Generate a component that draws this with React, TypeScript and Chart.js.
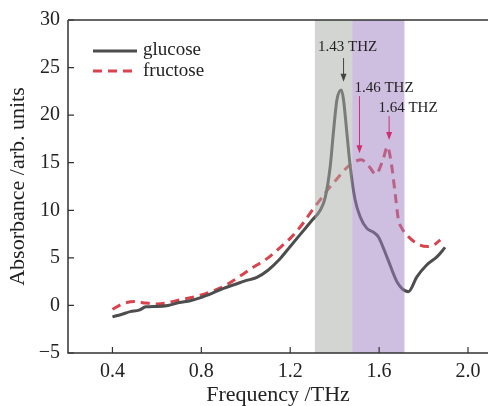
import { useEffect, useRef } from "react";
import { Chart, registerables } from "chart.js";

Chart.register(...registerables);

// ---- data ----
const glucoseX = [0.4, 0.44, 0.48, 0.52, 0.55, 0.6, 0.65, 0.7, 0.75, 0.8, 0.85, 0.9, 0.95, 1.0, 1.05, 1.1, 1.15, 1.2, 1.25, 1.3, 1.335, 1.357, 1.38, 1.394, 1.41, 1.43, 1.44, 1.455, 1.47, 1.492, 1.515, 1.545, 1.574, 1.597, 1.635, 1.68, 1.702, 1.732, 1.77, 1.814, 1.86, 1.897];
const glucoseY = [-1.2, -0.95, -0.65, -0.5, -0.15, -0.1, 0.0, 0.3, 0.5, 0.85, 1.3, 1.8, 2.2, 2.6, 2.95, 3.7, 4.8, 6.2, 7.6, 9.0, 10.0, 11.3, 14.6, 18.1, 21.6, 22.65, 21.6, 18.1, 14.6, 11.1, 9.3, 8.1, 7.7, 7.2, 5.1, 2.5, 1.8, 1.45, 3.0, 4.25, 5.1, 6.1];

const fructoseX = [0.4, 0.45, 0.5, 0.55, 0.6, 0.65, 0.7, 0.75, 0.8, 0.85, 0.9, 0.95, 1.0, 1.05, 1.1, 1.15, 1.2, 1.25, 1.305, 1.335, 1.37, 1.41, 1.47, 1.52, 1.555, 1.585, 1.62, 1.637, 1.657, 1.672, 1.687, 1.7, 1.74, 1.784, 1.82, 1.85, 1.875];
const fructoseY = [-0.4, 0.2, 0.4, 0.25, 0.15, 0.3, 0.57, 0.8, 1.1, 1.5, 2.0, 2.7, 3.5, 4.25, 5.0, 6.0, 7.05, 8.4, 10.2, 11.1, 12.2, 13.3, 14.8, 15.3, 14.6, 13.8, 15.5, 16.7, 14.6, 11.8, 9.0, 8.2, 7.05, 6.35, 6.2, 6.4, 6.9];

const xTicks = [0.4, 0.8, 1.2, 1.6, 2.0];
const yTicks = [-5, 0, 5, 10, 15, 20, 25, 30];

const bandStarts = [1.311, 1.479];
const bandEnds = [1.479, 1.714];

const seriesNames = ["glucose", "fructose"];

const peakLabels = ["1.43 THZ", "1.46 THZ", "1.64 THZ"];
const peakTextX = [1.458, 1.622, 1.73];
const peakTextY = [26.74, 22.43, 20.33];
const peakArrowX = [1.44, 1.5116, 1.645];
const peakArrowFrom = [26.0, 22.0, 19.9];
const peakArrowTo = [23.5, 16.0, 17.4];

// ---- styles ----
const GLUCOSE_COLOR = "#4d4d4d";
const FRUCTOSE_COLOR = "#d9434e";
const BAND_COLORS = ["rgba(168,172,168,0.5)", "rgba(158,128,194,0.5)"];
const ARROW_COLORS = ["#444444", "#cc3070", "#cc3070"];
const AXIS_COLOR = "#333333";
const FONT = "'Liberation Serif', 'Times New Roman', serif";

const overlayPlugin = {
  id: "overlayPlugin",
  afterDatasetsDraw(chart: any) {
    const { ctx, chartArea, scales } = chart;
    const { left, right, top, bottom } = chartArea;
    const xs = scales.x;
    const ys = scales.y;
    ctx.save();

    // shaded bands (translucent, over the curves)
    for (let i = 0; i < bandStarts.length; i++) {
      const x0 = xs.getPixelForValue(bandStarts[i]);
      const x1 = xs.getPixelForValue(bandEnds[i]);
      ctx.fillStyle = BAND_COLORS[i];
      ctx.fillRect(x0, top, x1 - x0, bottom - top);
    }

    // axes
    ctx.strokeStyle = AXIS_COLOR;
    ctx.lineWidth = 1.5;
    ctx.beginPath();
    ctx.moveTo(left, top);
    ctx.lineTo(right, top);
    ctx.moveTo(left, top);
    ctx.lineTo(left, bottom);
    ctx.lineTo(right, bottom);
    ctx.stroke();

    // inward ticks
    ctx.lineWidth = 1.2;
    ctx.beginPath();
    for (const t of xTicks) {
      const px = xs.getPixelForValue(t);
      ctx.moveTo(px, bottom);
      ctx.lineTo(px, bottom - 6);
    }
    for (const t of yTicks) {
      const py = ys.getPixelForValue(t);
      ctx.moveTo(left, py);
      ctx.lineTo(left + 6, py);
    }
    ctx.stroke();

    // annotations
    ctx.font = `15px ${FONT}`;
    ctx.textAlign = "center";
    ctx.textBaseline = "alphabetic";
    for (let i = 0; i < peakLabels.length; i++) {
      ctx.fillStyle = "#222222";
      ctx.fillText(peakLabels[i], xs.getPixelForValue(peakTextX[i]), ys.getPixelForValue(peakTextY[i]));
      const ax = xs.getPixelForValue(peakArrowX[i]);
      const ay0 = ys.getPixelForValue(peakArrowFrom[i]);
      const ay1 = ys.getPixelForValue(peakArrowTo[i]);
      ctx.strokeStyle = ARROW_COLORS[i];
      ctx.fillStyle = ARROW_COLORS[i];
      ctx.lineWidth = 1;
      ctx.beginPath();
      ctx.moveTo(ax, ay0);
      ctx.lineTo(ax, ay1 - 5);
      ctx.stroke();
      ctx.beginPath();
      ctx.moveTo(ax, ay1);
      ctx.lineTo(ax - 3, ay1 - 8);
      ctx.lineTo(ax + 3, ay1 - 8);
      ctx.closePath();
      ctx.fill();
    }

    // legend
    const lx0 = left + 25;
    const lx1 = left + 69;
    ctx.lineWidth = 3;
    ctx.strokeStyle = GLUCOSE_COLOR;
    ctx.setLineDash([]);
    ctx.beginPath();
    ctx.moveTo(lx0, top + 31);
    ctx.lineTo(lx1, top + 31);
    ctx.stroke();
    ctx.strokeStyle = FRUCTOSE_COLOR;
    ctx.setLineDash([9, 6]);
    ctx.beginPath();
    ctx.moveTo(lx0, top + 51);
    ctx.lineTo(lx1, top + 51);
    ctx.stroke();
    ctx.setLineDash([]);
    ctx.font = `19px ${FONT}`;
    ctx.fillStyle = "#222222";
    ctx.textAlign = "left";
    ctx.fillText(seriesNames[0], lx1 + 6, top + 35);
    ctx.fillText(seriesNames[1], lx1 + 6, top + 56);

    ctx.restore();
  },
};

export default function App() {
  const ref = useRef<HTMLCanvasElement | null>(null);

  useEffect(() => {
    if (!ref.current) return;
    const chart = new Chart(ref.current, {
      type: "line",
      data: {
        datasets: [
          {
            label: seriesNames[0],
            data: glucoseX.map((x, i) => ({ x, y: glucoseY[i] })),
            borderColor: GLUCOSE_COLOR,
            borderWidth: 3,
            pointRadius: 0,
            cubicInterpolationMode: "monotone",
            fill: false,
          },
          {
            label: seriesNames[1],
            data: fructoseX.map((x, i) => ({ x, y: fructoseY[i] })),
            borderColor: FRUCTOSE_COLOR,
            borderWidth: 3,
            borderDash: [9, 6],
            pointRadius: 0,
            cubicInterpolationMode: "monotone",
            fill: false,
          },
        ],
      },
      options: {
        responsive: false,
        animation: false,
        layout: { padding: { top: 20, right: 0, left: 0, bottom: 0 } },
        plugins: { legend: { display: false }, tooltip: { enabled: false } },
        scales: {
          x: {
            type: "linear",
            min: 0.2,
            max: 2.09,
            afterBuildTicks: (s: any) => {
              s.ticks = xTicks.map((v) => ({ value: v }));
            },
            afterFit: (s: any) => {
              s.height = 53;
            },
            grid: { display: false, drawTicks: false },
            border: { display: false },
            ticks: {
              autoSkip: false,
              maxRotation: 0,
              padding: 7,
              color: "#222222",
              font: { family: FONT, size: 20 },
              callback: (v: any) => Number(v).toFixed(1),
            },
            title: {
              display: true,
              text: "Frequency /THz",
              color: "#222222",
              font: { family: FONT, size: 22, lineHeight: 1 },
              padding: 0,
            },
          },
          y: {
            type: "linear",
            min: -5,
            max: 30,
            afterBuildTicks: (s: any) => {
              s.ticks = yTicks.map((v) => ({ value: v }));
            },
            afterFit: (s: any) => {
              s.width = 68;
            },
            grid: { display: false, drawTicks: false },
            border: { display: false },
            ticks: {
              autoSkip: false,
              padding: 8,
              color: "#222222",
              font: { family: FONT, size: 20 },
              callback: (v: any) => (Number(v) < 0 ? "\u2212" + Math.abs(Number(v)) : String(v)),
            },
            title: {
              display: true,
              text: "Absorbance /arb. units",
              color: "#222222",
              font: { family: FONT, size: 22, lineHeight: 1 },
              padding: { top: 7, bottom: 0 },
            },
          },
        },
      },
      plugins: [overlayPlugin],
    });
    return () => chart.destroy();
  }, []);

  return (
    <div style={{ position: "absolute", left: 0, top: 0, width: 488, height: 406 }}>
      <canvas ref={ref} width={488} height={406} />
    </div>
  );
}
